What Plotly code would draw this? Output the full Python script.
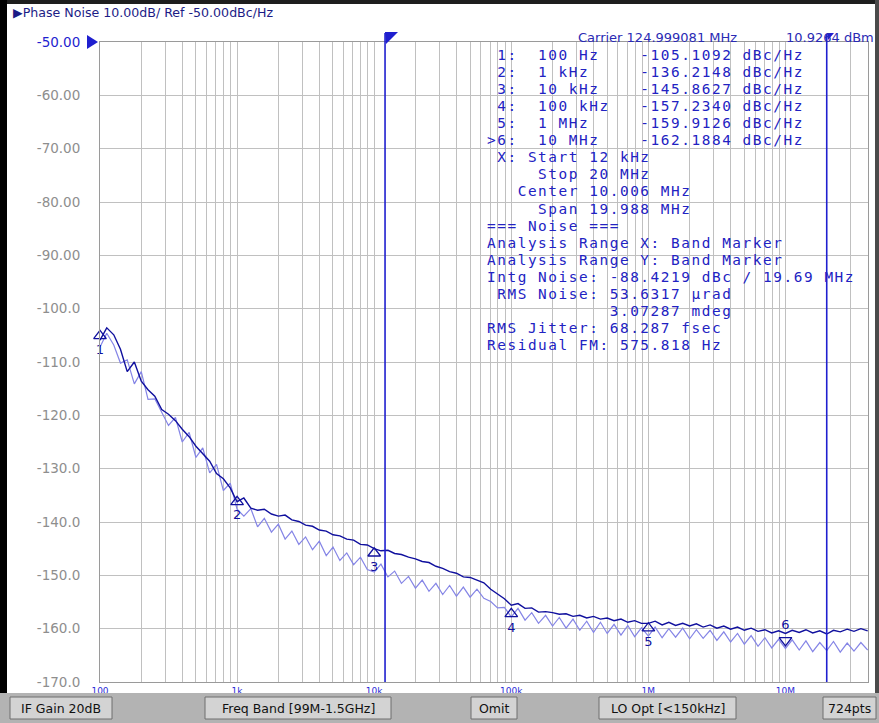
import math
import plotly.graph_objects as go

# ---------------- data ----------------
freq_hz = [
    100, 112, 126, 141, 158, 178, 200, 224, 251, 282, 316, 355, 398, 447, 501, 562, 631, 708, 794, 891,
    1000, 1120, 1260, 1410, 1580, 1780, 2000, 2240, 2510, 2820, 3160, 3550, 3980, 4470, 5010, 5620, 6310, 7080, 7940, 8910,
    10000, 11200, 12600, 14100, 15800, 17800, 20000, 22400, 25100, 28200, 31600, 35500, 39800, 44700, 50100, 56200, 63100, 70800, 79400, 89100,
    1.00e5, 1.12e5, 1.26e5, 1.41e5, 1.58e5, 1.78e5, 2.00e5, 2.24e5, 2.51e5, 2.82e5, 3.16e5, 3.55e5, 3.98e5, 4.47e5, 5.01e5, 5.62e5, 6.31e5, 7.08e5, 7.94e5, 8.91e5,
    1.00e6, 1.12e6, 1.26e6, 1.41e6, 1.58e6, 1.78e6, 2.00e6, 2.24e6, 2.51e6, 2.82e6, 3.16e6, 3.55e6, 3.98e6, 4.47e6, 5.01e6, 5.62e6, 6.31e6, 7.08e6, 7.94e6, 8.91e6,
    1.00e7, 1.12e7, 1.26e7, 1.41e7, 1.58e7, 1.78e7, 2.00e7, 2.24e7, 2.51e7, 2.82e7, 3.16e7, 3.55e7, 3.98e7,
]

phase_noise_data = [
    -105.9, -103.6, -104.9, -107.6, -111.8, -110.0, -113.6, -115.2, -116.4, -118.9, -119.8, -121.0, -122.6, -124.0, -125.8, -127.1, -128.6, -130.9, -131.9, -133.6,
    -136.2, -135.5, -137.4, -137.8, -137.6, -138.5, -138.9, -138.7, -139.6, -139.9, -140.6, -140.8, -141.5, -141.7, -142.4, -142.6, -143.2, -143.4, -144.2, -144.3,
    -145.0, -145.4, -145.3, -145.9, -146.1, -146.6, -146.9, -147.4, -147.6, -148.3, -148.7, -149.3, -149.6, -150.3, -150.4, -150.9, -151.4, -152.6, -153.5, -154.4,
    -155.6, -155.3, -156.2, -156.1, -156.9, -156.8, -157.0, -157.3, -157.2, -157.7, -157.5, -158.0, -157.7, -158.2, -158.0, -158.5, -158.2, -158.8, -158.5, -159.0,
    -159.0, -158.6, -159.3, -158.8, -159.4, -159.0, -159.5, -159.1, -159.7, -159.3, -159.9, -159.5, -160.1, -159.7, -160.3, -159.9, -160.5, -160.2, -160.8, -160.4,
    -160.9, -160.3, -160.7, -160.2, -160.8, -160.4, -161.0, -160.3, -160.6, -160.1, -160.5, -160.0, -160.4,
]

phase_noise_memory = [
    -107.2, -104.6, -106.8, -110.2, -109.6, -114.1, -111.8, -117.0, -116.9, -119.4, -121.9, -120.4, -125.0, -123.2, -127.9, -126.1, -130.8, -129.2, -134.1, -132.7,
    -137.6, -138.9, -137.5, -140.9, -139.3, -141.9, -140.4, -143.2, -141.7, -144.2, -142.8, -145.2, -143.6, -146.3, -144.7, -147.2, -145.8, -148.0, -146.6, -148.9,
    -149.4, -147.9, -150.3, -149.2, -151.5, -150.2, -152.4, -150.9, -153.0, -151.5, -153.6, -151.9, -153.9, -152.2, -154.1, -152.6, -154.3, -154.9, -156.1, -156.0,
    -157.8, -156.2, -158.4, -157.0, -159.0, -157.5, -159.5, -157.9, -159.9, -158.2, -160.3, -158.6, -160.7, -158.8, -160.9, -159.2, -161.2, -159.4, -161.5, -159.8,
    -161.4, -159.7, -161.7, -160.0, -161.6, -159.9, -161.9, -160.2, -161.8, -160.3, -162.2, -160.6, -162.5, -160.9, -162.9, -161.3, -163.3, -161.7, -163.6, -162.0,
    -163.7, -162.1, -164.0, -162.3, -164.3, -162.6, -164.1, -162.4, -164.4, -162.7, -164.2, -162.6, -164.0,
]

marker_freq = [100, 1e3, 1e4, 1e5, 1e6, 1e7]
marker_value = [-105.1092, -136.2148, -145.8627, -157.2340, -159.9126, -162.1884]
marker_label = ["1", "2", "3", "4", "5", "6"]

y_tick_values = [-50, -60, -70, -80, -90, -100, -110, -120, -130, -140, -150, -160, -170]
y_tick_labels = ["-50.00", "-60.00", "-70.00", "-80.00", "-90.00", "-100.0", "-110.0",
                 "-120.0", "-130.0", "-140.0", "-150.0", "-160.0", "-170.0"]

decade_values = [100, 1e3, 1e4, 1e5, 1e6, 1e7]
decade_labels = ["100", "1k", "10k", "100k", "1M", "10M"]

x_start, x_stop = 100, 4e7
band_start, band_stop = 12e3, 20e6

title_text = "\u25B6Phase Noise 10.00dB/ Ref -50.00dBc/Hz"
carrier_text = "Carrier 124.999081 MHz"
carrier_power = "10.9264 dBm"

info_lines = [
    " 1:  100 Hz    -105.1092 dBc/Hz",
    " 2:  1 kHz     -136.2148 dBc/Hz",
    " 3:  10 kHz    -145.8627 dBc/Hz",
    " 4:  100 kHz   -157.2340 dBc/Hz",
    " 5:  1 MHz     -159.9126 dBc/Hz",
    ">6:  10 MHz    -162.1884 dBc/Hz",
    " X: Start 12 kHz",
    "     Stop 20 MHz",
    "   Center 10.006 MHz",
    "     Span 19.988 MHz",
    "=== Noise ===",
    "Analysis Range X: Band Marker",
    "Analysis Range Y: Band Marker",
    "Intg Noise: -88.4219 dBc / 19.69 MHz",
    " RMS Noise: 53.6317 \u00b5rad",
    "            3.07287 mdeg",
    "RMS Jitter: 68.287 fsec",
    "Residual FM: 575.818 Hz",
]

status_buttons = ["IF Gain 20dB", "Freq Band [99M-1.5GHz]", "Omit", "LO Opt [<150kHz]", "724pts"]
status_button_px = [(10, 112), (205, 391), (471, 517), (599, 736), (823, 876)]

# ---------------- layout helpers ----------------
W, H = 879, 723
ML, MR, MT, MB = 100, 11, 42, 41
PW, PH = W - ML - MR, H - MT - MB


def px(x):
    return (x - ML) / PW


def py(y):
    return (H - MB - y) / PH


BLUE = "#1f1fcf"
DARK = "#10109e"
LIGHT = "#8585e6"
GRID = "#c0c0c0"

# x grid positions: every digit of each decade inside the range
x_grid = []
x_grid_text = []
for d, lab in zip(decade_values, decade_labels):
    for m in range(1, 10):
        v = d * m
        if v <= x_stop:
            x_grid.append(v)
            x_grid_text.append(lab if m == 1 else "")

y_ticktext = [f"<span style='color:{BLUE}'>{t}</span>" if v == -50 else t
              for v, t in zip(y_tick_values, y_tick_labels)]

fig = go.Figure()

fig.add_trace(go.Scatter(x=freq_hz, y=phase_noise_memory, mode="lines",
                         line=dict(color=LIGHT, width=1.2), hoverinfo="skip"))
fig.add_trace(go.Scatter(x=freq_hz, y=phase_noise_data, mode="lines",
                         line=dict(color=DARK, width=1.4), hoverinfo="skip"))

# data markers 1-5 (triangle up, label below) and active marker 6 (label above)
fig.add_trace(go.Scatter(
    x=marker_freq[:5], y=marker_value[:5], mode="markers+text",
    text=marker_label[:5], textposition="bottom center",
    textfont=dict(family="DejaVu Sans", size=13, color=DARK),
    marker=dict(symbol="triangle-up-open", size=11, color=DARK, line=dict(width=1.3)),
    cliponaxis=False, hoverinfo="skip"))
fig.add_trace(go.Scatter(
    x=marker_freq[5:], y=marker_value[5:], mode="markers+text",
    text=marker_label[5:], textposition="top center",
    textfont=dict(family="DejaVu Sans", size=13, color=DARK),
    marker=dict(symbol="triangle-down-open", size=11, color=DARK, line=dict(width=1.3)),
    cliponaxis=False, hoverinfo="skip"))

# stimulus markers under the axis
stim_y = -171.35
fig.add_trace(go.Scatter(
    x=decade_values, y=[stim_y] * len(decade_values), mode="markers",
    marker=dict(symbol=["triangle-up-open"] * 5 + ["triangle-up"], size=13,
                color="#2c2cd8", line=dict(width=1.2, color="#2c2cd8")),
    cliponaxis=False, hoverinfo="skip"))

shapes = []
# band marker vertical lines
for bx, top in [(band_start, 33), (band_stop, 34)]:
    shapes.append(dict(type="line", xref="x", yref="paper", x0=bx, x1=bx,
                       y0=0, y1=py(top), line=dict(color=BLUE, width=1.6)))

# flags on top of band marker lines
shapes.append(dict(type="path", xref="paper", yref="paper",
                   path=f"M {px(385)},{py(32)} L {px(398)},{py(32)} L {px(386)},{py(44)} Z",
                   fillcolor=BLUE, line=dict(width=0)))
shapes.append(dict(type="path", xref="paper", yref="paper",
                   path=f"M {px(827)},{py(33)} L {px(834)},{py(33)} L {px(828)},{py(40)} Z",
                   fillcolor=BLUE, line=dict(width=0)))
# reference level marker
shapes.append(dict(type="path", xref="paper", yref="paper",
                   path=f"M {px(87)},{py(35)} L {px(98)},{py(42)} L {px(87)},{py(49)} Z",
                   fillcolor=BLUE, line=dict(width=0)))

# window frame
shapes.append(dict(type="rect", xref="paper", yref="paper", x0=px(0), x1=px(W),
                   y0=py(0), y1=py(4), fillcolor="#1e1e1e", line=dict(width=0)))
shapes.append(dict(type="rect", xref="paper", yref="paper", x0=px(0), x1=px(7),
                   y0=py(0), y1=py(693), fillcolor="#000000", line=dict(width=0)))
shapes.append(dict(type="rect", xref="paper", yref="paper", x0=px(875), x1=px(W),
                   y0=py(0), y1=py(693), fillcolor="#4a4a4a", line=dict(width=0)))
# status bar
shapes.append(dict(type="rect", xref="paper", yref="paper", x0=px(0), x1=px(W),
                   y0=py(693), y1=py(H), fillcolor="#b3b3b3", line=dict(width=0)))
for (x0, x1) in status_button_px:
    shapes.append(dict(type="rect", xref="paper", yref="paper", x0=px(x0), x1=px(x1),
                       y0=py(697), y1=py(719), fillcolor="#d3d3d3",
                       line=dict(color="#6e6e6e", width=1)))

annotations = []
annotations.append(dict(text=title_text, xref="paper", yref="paper", x=px(11), y=py(13),
                        xanchor="left", yanchor="middle", showarrow=False,
                        font=dict(family="DejaVu Sans", size=12.6, color="#1c1c86")))
annotations.append(dict(text=carrier_text, xref="paper", yref="paper", x=px(576), y=py(37),
                        xanchor="left", yanchor="middle", showarrow=False,
                        font=dict(family="DejaVu Sans", size=13, color="#2a2ab4")))
annotations.append(dict(text=carrier_power, xref="paper", yref="paper", x=px(784), y=py(37),
                        xanchor="left", yanchor="middle", showarrow=False,
                        font=dict(family="DejaVu Sans", size=13, color="#2a2ab4")))

# marker / noise readout block: one multi-line text on a 17 px pitch,
# glyphs spaced to the 10.2 px character cell of the instrument font
LINE_PITCH = 17.06
block_font = LINE_PITCH / 1.3
block_text = "<br>".join(
    "<span style='font-size:14.4px;letter-spacing:1.56px'>" + ln.replace(" ", "\u00a0") + "</span>"
    for ln in info_lines)
annotations.append(dict(text=block_text, xref="paper", yref="paper",
                        x=px(485), y=py(55 - LINE_PITCH / 2 - 1), xanchor="left", yanchor="top",
                        align="left", showarrow=False,
                        font=dict(family="DejaVu Sans Mono", size=block_font, color="#2222c2")))

for label, (x0, x1) in zip(status_buttons, status_button_px):
    annotations.append(dict(text=label, xref="paper", yref="paper", x=px((x0 + x1) / 2),
                            y=py(708), xanchor="center", yanchor="middle", showarrow=False,
                            font=dict(family="DejaVu Sans", size=12.5, color="#111111")))

fig.update_layout(
    width=W, height=H,
    margin=dict(l=ML, r=MR, t=MT, b=MB, pad=0),
    paper_bgcolor="white", plot_bgcolor="white",
    showlegend=False,
    shapes=shapes, annotations=annotations,
    xaxis=dict(type="log", range=[math.log10(x_start), math.log10(x_stop)],
               tickvals=x_grid, ticktext=x_grid_text, ticks="",
               tickfont=dict(family="DejaVu Sans", size=9, color="#2c2cd8"),
               showgrid=True, gridcolor=GRID, gridwidth=1, zeroline=False,
               showline=True, linecolor="#9a9a9a", linewidth=1, mirror=True),
    yaxis=dict(range=[-170, -50], tickvals=y_tick_values, ticktext=y_ticktext, ticks="",
               tickfont=dict(family="DejaVu Sans", size=13.5, color="#8e8e8e"),
               ticklabelstandoff=16,
               showgrid=True, gridcolor=GRID, gridwidth=1, zeroline=False,
               showline=True, linecolor="#9a9a9a", linewidth=1, mirror=True),
)

fig.write_html(
    "out.html",
    config={"displayModeBar": False},
    post_script="document.body.style.margin='0px';document.body.style.overflow='hidden';",
)
